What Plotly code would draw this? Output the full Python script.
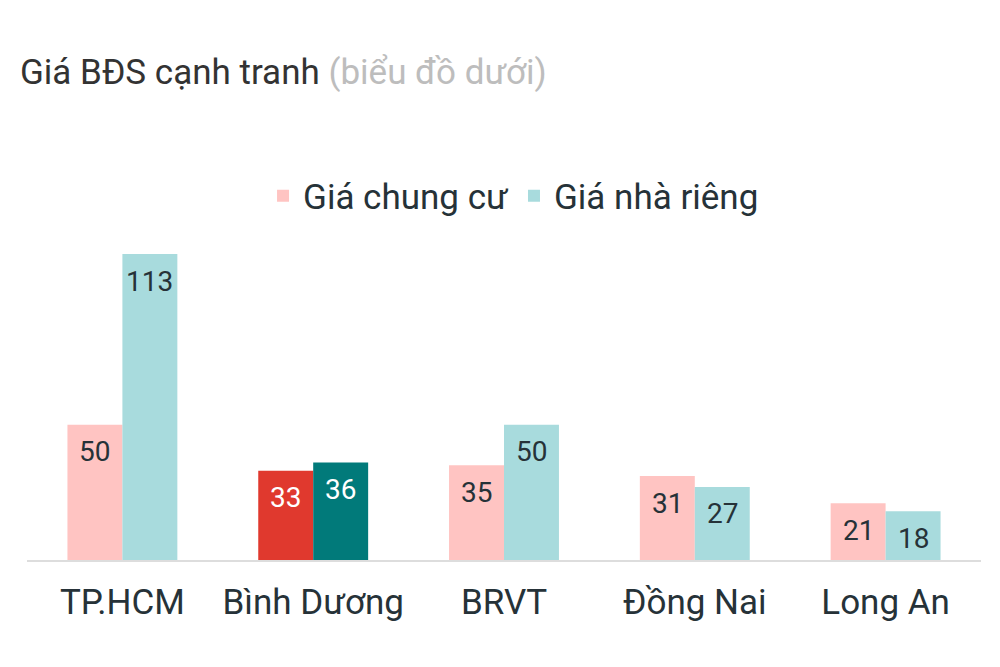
import plotly.graph_objects as go

# dữ liệu
regions = ["TP.HCM", "Bình Dương", "BRVT", "Đồng Nai", "Long An"]
chung_cu = [50, 33, 35, 31, 21]
nha_rieng = [113, 36, 50, 27, 18]
highlight = "Bình Dương"

pink, red = "#FFC4C2", "#E0392E"
teal, dark_teal = "#A8DBDD", "#017A7A"
ink = "#263238"

c1 = [red if r == highlight else pink for r in regions]
c2 = [dark_teal if r == highlight else teal for r in regions]

fig = go.Figure()
fig.add_trace(go.Bar(name="Giá chung cư", x=regions, y=chung_cu,
                     marker=dict(color=c1, line=dict(width=0))))
fig.add_trace(go.Bar(name="Giá nhà riêng", x=regions, y=nha_rieng,
                     marker=dict(color=c2, line=dict(width=0))))

# nhãn số nằm trong đầu cột
for series, shift in [(chung_cu, -27.5), (nha_rieng, 27.5)]:
    for r, v in zip(regions, series):
        fig.add_annotation(
            x=r, y=v, xshift=shift, yshift=-27, yanchor="middle",
            text=str(v), showarrow=False,
            font=dict(size=28, color="white" if r == highlight else ink),
        )

fig.update_layout(
    width=1000, height=667,
    paper_bgcolor="white", plot_bgcolor="white",
    font=dict(family="Roboto", color=ink),
    barmode="group", bargap=0.424, bargroupgap=0,
    margin=dict(l=19, r=27, t=242, b=115),
    title=dict(
        text="Giá BĐS cạnh tranh <span style='color:#BDBDBD'>(biểu đồ dưới)</span>",
        font=dict(size=35, color="#333333"),
        x=0.012, xref="container", xanchor="left",
        y=1 - 64 / 667, yref="container", yanchor="middle",
    ),
    legend=dict(
        orientation="h", x=0.51, xanchor="center", xref="paper",
        y=1 - 188 / 667, yref="container", yanchor="middle",
        font=dict(size=35, color=ink), itemclick=False,
        traceorder="normal",
    ),
)
fig.update_xaxes(
    showline=True, linecolor="#DDDDDD", linewidth=2,
    showgrid=False, ticks="", tickfont=dict(size=35, color=ink),
    ticklabelstandoff=10,
)
fig.update_yaxes(visible=False, range=[0, 114.5], showgrid=False)

fig.write_html("out.html")
